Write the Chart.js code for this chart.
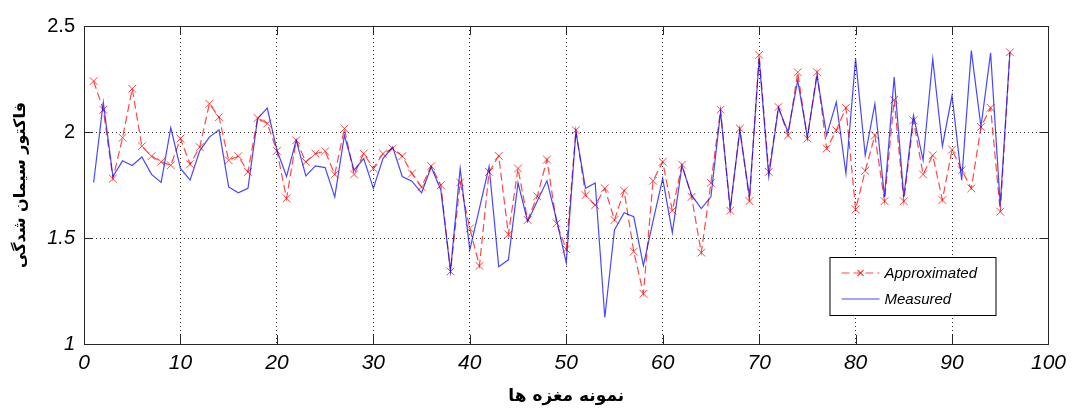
<!DOCTYPE html>
<html lang="fa">
<head>
    <meta charset="UTF-8">
    <title>Cementation factor</title>
    <script src="https://cdn.jsdelivr.net/npm/chart.js"></script>
    <style>
        html, body {
            margin: 0;
            padding: 0;
            background: #fff;
        }
        #wrap {
            width: 1073px;
            height: 410px;
        }
    </style>
</head>
<body>

<div id="wrap">
    <canvas id="mChart"></canvas>
</div>

<script>
    // core sample numbers
    const sampleNo = Array.from({ length: 96 }, (_, i) => i + 1);

    // cementation factor from the model
    const approximated = [
        2.24, 2.105, 1.78, 1.973, 2.204, 1.933, 1.886, 1.859, 1.843, 1.969,
        1.848, 1.929, 2.133, 2.07, 1.867, 1.886, 1.812, 2.066, 2.04, 1.911,
        1.687, 1.961, 1.859, 1.898, 1.909, 1.80, 2.016, 1.80, 1.898, 1.828,
        1.898, 1.922, 1.886, 1.804, 1.741, 1.839, 1.749, 1.342, 1.762, 1.545,
        1.368, 1.812, 1.887, 1.517, 1.828, 1.585, 1.697, 1.87, 1.569, 1.447,
        2.008, 1.702, 1.655, 1.734, 1.585, 1.723, 1.436, 1.237, 1.77, 1.859,
        1.629, 1.846, 1.694, 1.431, 1.76, 2.105, 1.629, 2.016, 1.674, 2.364,
        1.812, 2.118, 1.984, 2.282, 1.969, 2.282, 1.922, 2.008, 2.114, 1.635,
        1.817, 1.984, 1.674, 2.152, 1.674, 2.055, 1.80, 1.89, 1.679, 1.917,
        1.82, 1.734, 2.024, 2.114, 1.624, 2.376
    ];

    // cementation factor from lab measurements
    const measured = [
        1.762, 2.14, 1.79, 1.864, 1.842, 1.882, 1.80, 1.762, 2.02, 1.828,
        1.773, 1.911, 1.976, 2.01, 1.741, 1.713, 1.734, 2.063, 2.113, 1.915,
        1.79, 1.961, 1.793, 1.84, 1.832, 1.694, 1.984, 1.82, 1.875, 1.734,
        1.875, 1.929, 1.79, 1.768, 1.713, 1.835, 1.726, 1.345, 1.828, 1.444,
        1.64, 1.837, 1.365, 1.397, 1.76, 1.577, 1.674, 1.77, 1.585, 1.384,
        2.0, 1.734, 1.76, 1.125, 1.538, 1.619, 1.6, 1.37, 1.58, 1.78,
        1.525, 1.84, 1.702, 1.639, 1.694, 2.094, 1.639, 2.008, 1.694, 2.345,
        1.79, 2.114, 2.0, 2.243, 1.976, 2.266, 1.984, 2.141, 1.804, 2.345,
        1.89, 2.133, 1.694, 2.259, 1.694, 2.078, 1.867, 2.345, 1.933, 2.172,
        1.773, 2.384, 2.024, 2.373, 1.655, 2.376
    ];

    const xTicks = [0, 10, 20, 30, 40, 50, 60, 70, 80, 90, 100];
    const yTicks = [1, 1.5, 2, 2.5];

    const xTitle = 'نمونه مغزه ها';
    const yTitle = 'فاکتور سیمان شدگی';

    const RED = 'rgba(255, 0, 0, 0.72)';
    const BLUE = 'rgba(0, 0, 255, 0.72)';
    const tickFont = "'Liberation Sans', Arial, sans-serif";
    const faFont = "'DejaVu Sans', sans-serif";

    // box around the axes, with inward tick marks on all four sides
    const boxPlugin = {
        id: 'box',
        afterDraw(chart) {
            const { ctx, chartArea: a, scales } = chart;
            const len = 9;
            ctx.save();
            ctx.strokeStyle = '#262626';
            ctx.lineWidth = 1;
            ctx.beginPath();
            xTicks.forEach(v => {
                const px = Math.round(scales.x.getPixelForValue(v)) + 0.5;
                ctx.moveTo(px, a.bottom);
                ctx.lineTo(px, a.bottom - len);
                ctx.moveTo(px, a.top);
                ctx.lineTo(px, a.top + len);
            });
            yTicks.forEach(v => {
                const py = Math.round(scales.y.getPixelForValue(v)) + 0.5;
                ctx.moveTo(a.left, py);
                ctx.lineTo(a.left + len, py);
                ctx.moveTo(a.right, py);
                ctx.lineTo(a.right - len, py);
            });
            ctx.stroke();
            ctx.strokeRect(Math.round(a.left) + 0.5, Math.round(a.top) + 0.5,
                Math.round(a.right - a.left), Math.round(a.bottom - a.top));
            ctx.restore();
        }
    };

    // legend in the lower right corner of the plot
    const legendPlugin = {
        id: 'boxLegend',
        afterDraw(chart) {
            const { ctx, chartArea: a } = chart;
            const left = a.right - 219;
            const top = a.top + 231;
            const w = 166, h = 58;
            ctx.save();
            ctx.fillStyle = '#fff';
            ctx.fillRect(left, top, w, h);
            ctx.strokeStyle = '#000';
            ctx.lineWidth = 1;
            ctx.strokeRect(left + 0.5, top + 0.5, w, h);

            chart.data.datasets.forEach((ds, i) => {
                const y = top + 16 + i * 26;
                ctx.strokeStyle = ds.borderColor;
                ctx.lineWidth = 1.2;
                ctx.setLineDash(ds.borderDash || []);
                ctx.beginPath();
                ctx.moveTo(left + 12, y);
                ctx.lineTo(left + 50, y);
                ctx.stroke();
                ctx.setLineDash([]);
                if (ds.pointRadius > 0) {
                    const cx = left + 31, r = 3;
                    ctx.beginPath();
                    ctx.moveTo(cx - r, y - r);
                    ctx.lineTo(cx + r, y + r);
                    ctx.moveTo(cx - r, y + r);
                    ctx.lineTo(cx + r, y - r);
                    ctx.stroke();
                }
                ctx.fillStyle = '#000';
                ctx.font = 'italic 15px ' + tickFont;
                ctx.textBaseline = 'middle';
                ctx.textAlign = 'left';
                ctx.fillText(ds.label, left + 55, y + 1);
            });
            ctx.restore();
        }
    };

    const ctx = document.getElementById('mChart').getContext('2d');
    const mChart = new Chart(ctx, {
        type: 'line',
        data: {
            datasets: [
                {
                    label: 'Approximated',
                    data: sampleNo.map((n, i) => ({ x: n, y: approximated[i] })),
                    borderColor: RED,
                    borderWidth: 1.2,
                    borderDash: [8, 4],
                    pointStyle: 'crossRot',
                    pointRadius: 5.5,
                    pointBorderColor: RED,
                    pointBorderWidth: 1,
                    fill: false,
                    tension: 0,
                    order: 1
                },
                {
                    label: 'Measured',
                    data: sampleNo.map((n, i) => ({ x: n, y: measured[i] })),
                    borderColor: BLUE,
                    borderWidth: 1.2,
                    pointRadius: 0,
                    fill: false,
                    tension: 0,
                    order: 0
                }
            ]
        },
        options: {
            responsive: true,
            maintainAspectRatio: false,
            animation: false,
            layout: {
                padding: { top: 26, right: 21, left: 0, bottom: 0 }
            },
            plugins: {
                legend: { display: false },
                tooltip: { enabled: false }
            },
            scales: {
                x: {
                    type: 'linear',
                    min: 0,
                    max: 100,
                    afterFit: s => { s.height = 66; },
                    afterBuildTicks: s => { s.ticks = xTicks.map(v => ({ value: v })); },
                    border: { display: false, dash: [1, 3] },
                    grid: { color: 'rgba(0,0,0,0.85)', drawTicks: false },
                    ticks: {
                        color: '#000',
                        padding: 7,
                        maxRotation: 0,
                        callback: v => String(v),
                        font: { family: tickFont, size: 21, style: 'italic' }
                    },
                    title: {
                        display: true,
                        text: xTitle,
                        color: '#000',
                        font: { family: faFont, size: 17, weight: 'bold' },
                        padding: { top: 0, bottom: 3 }
                    }
                },
                y: {
                    type: 'linear',
                    min: 1,
                    max: 2.5,
                    afterFit: s => { s.width = 84; },
                    afterBuildTicks: s => { s.ticks = yTicks.map(v => ({ value: v })); },
                    border: { display: false, dash: [1, 3] },
                    grid: { color: 'rgba(0,0,0,0.85)', drawTicks: false },
                    ticks: {
                        color: '#000',
                        padding: 9,
                        callback: v => String(v),
                        font: c => ({
                            family: tickFont,
                            size: 20,
                            style: c.tick && c.tick.value >= 2 ? 'normal' : 'italic'
                        })
                    },
                    title: {
                        display: true,
                        text: yTitle,
                        color: '#000',
                        font: { family: faFont, size: 16, weight: 'bold' },
                        padding: { top: 11, bottom: 0 }
                    }
                }
            }
        },
        plugins: [boxPlugin, legendPlugin]
    });
</script>

</body>
</html>
